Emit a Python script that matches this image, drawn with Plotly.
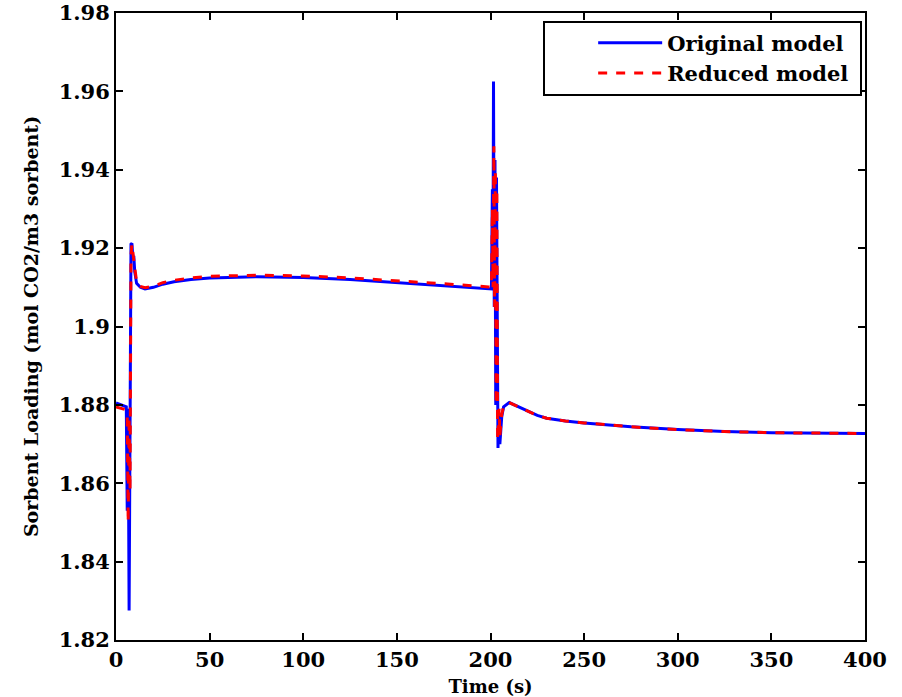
import plotly.graph_objects as go

# Original model (blue)
t_orig = [0, 3, 5, 5.5, 6, 6.5, 7, 7.5, 8, 8.5, 9, 9.5, 10, 11, 13, 15.5, 20, 25, 31, 40, 50, 75, 100,
          125, 150, 175, 199, 200.5, 201, 201.3, 201.6, 202, 202.4, 202.8, 203.2, 203.6, 204, 204.5,
          205, 206, 207, 210, 215, 220, 225, 230, 240, 250, 275, 300, 325, 350, 375, 400]
y_orig = [1.8805, 1.8800, 1.8797, 1.8795, 1.853, 1.879, 1.8275, 1.894, 1.921, 1.9212, 1.9175, 1.918,
          1.914, 1.911, 1.9100, 1.9096, 1.9100, 1.9108, 1.9114, 1.9120, 1.9124, 1.9127, 1.9125,
          1.9120, 1.9112, 1.9104, 1.9097, 1.9096, 1.9350, 1.9100, 1.9625, 1.9050, 1.9425, 1.8800,
          1.9380, 1.8700, 1.8690, 1.8780, 1.8700, 1.8770, 1.8795, 1.8806, 1.8795, 1.8784, 1.8773,
          1.8766, 1.8759, 1.8754, 1.8744, 1.8737, 1.8732, 1.8729, 1.8728, 1.8727]

# Reduced model (red)
t_red = [0, 3, 5, 5.5, 6, 6.5, 7, 7.5, 8, 8.5, 9, 9.5, 10, 11, 13, 15.5, 20, 25, 31, 40, 50, 75, 100,
         125, 150, 175, 199, 200.5, 201, 201.4, 201.8, 202.2, 202.6, 203, 203.4, 203.8, 204.2, 204.6,
         205, 206, 207, 210, 215, 220, 225, 230, 240, 250, 275, 300, 325, 350, 375, 400]
y_red = [1.8795, 1.8790, 1.8788, 1.8785, 1.8770, 1.8500, 1.8770, 1.8580, 1.9180, 1.9210, 1.9185,
         1.9170, 1.9150, 1.9115, 1.9102, 1.9099, 1.9103, 1.9112, 1.9118, 1.9124, 1.9128, 1.9131,
         1.9129, 1.9124, 1.9117, 1.9109, 1.9101, 1.9100, 1.9300, 1.9100, 1.9460, 1.9050, 1.9400,
         1.8800, 1.9350, 1.8710, 1.8750, 1.8790, 1.8720, 1.8775, 1.8797, 1.8806, 1.8795, 1.8784,
         1.8773, 1.8766, 1.8759, 1.8754, 1.8744, 1.8737, 1.8732, 1.8729, 1.8728, 1.8727]

x_ticks = [0, 50, 100, 150, 200, 250, 300, 350, 400]
y_ticks = [1.82, 1.84, 1.86, 1.88, 1.9, 1.92, 1.94, 1.96, 1.98]
y_tick_labels = ["1.82", "1.84", "1.86", "1.88", "1.9", "1.92", "1.94", "1.96", "1.98"]

font_family = "DejaVu Serif"

fig = go.Figure()
fig.add_trace(go.Scatter(x=t_orig, y=y_orig, mode="lines", name="<b>Original model</b>&nbsp;",
                         line=dict(color="#0000FF", width=3)))
fig.add_trace(go.Scatter(x=t_red, y=y_red, mode="lines", name="<b>Reduced model</b>&nbsp;",
                         line=dict(color="#FF0000", width=3, dash="dash")))

axis_common = dict(showline=True, linecolor="black", linewidth=2, mirror="ticks",
                   ticks="inside", ticklen=7, tickwidth=1.5, tickcolor="black",
                   showgrid=False, zeroline=False, automargin=False,
                   ticklabeloverflow="allow",
                   tickfont=dict(family=font_family, size=21, color="black", weight="bold"))

fig.update_layout(
    width=902, height=697,
    margin=dict(l=116, r=37, t=13, b=57),
    paper_bgcolor="white", plot_bgcolor="white",
    showlegend=True,
    legend=dict(x=0.996, y=0.988, xanchor="right", yanchor="top",
                bordercolor="black", borderwidth=2, bgcolor="white",
                font=dict(family=font_family, size=21, color="black"),
                title=dict(text="&nbsp;&nbsp;&nbsp;&nbsp;&nbsp;&nbsp;", side="left",
                           font=dict(family=font_family, size=20)),
                tracegroupgap=0, itemwidth=64),
    xaxis=dict(range=[0, 400], tickvals=x_ticks, ticktext=[str(v) for v in x_ticks],
               title=dict(text="<b>Time (s)</b>", standoff=10,
                          font=dict(family=font_family, size=18, color="black")),
               **axis_common),
    yaxis=dict(range=[1.82, 1.98], tickvals=y_ticks, ticktext=y_tick_labels,
               title=dict(text="<b>Sorbent Loading (mol CO2/m3 sorbent)</b>",
                          font=dict(family=font_family, size=19, color="black")),
               **axis_common),
)

fig.write_html("out.html", config={"displayModeBar": False},
               post_script=["document.body.style.margin='0';"])
